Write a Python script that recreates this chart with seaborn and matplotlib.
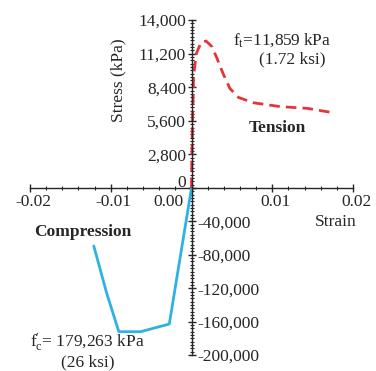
import numpy as np
import pandas as pd
import matplotlib
matplotlib.use("Agg")
import matplotlib.pyplot as plt
import matplotlib.ticker as mticker
import matplotlib.transforms as mtransforms
import seaborn as sns

# --- data ---
tension_strain = [0.0, 0.0001, 0.00025, 0.0006, 0.0012, 0.0018, 0.0025, 0.0031,
                  0.0039, 0.00475, 0.0058, 0.0077, 0.011, 0.0143, 0.0173]
tension_stress = [0, 4500, 9300, 11200, 12150, 12250, 11800, 10900,
                  9550, 8300, 7550, 7100, 6780, 6640, 6300]

comp_strain = [0.0, -0.00275, -0.0063, -0.009, -0.0105, -0.0121]
comp_stress = [0, -162900, -172100, -172100, -126100, -69500]

x_ticks = [-0.02, -0.01, 0.0, 0.01, 0.02]
y_ticks_tension = [0, 2800, 5600, 8400, 11200, 14000]
y_ticks_comp = [-200000, -160000, -120000, -80000, -40000]

tension_df = pd.DataFrame({'strain': tension_strain, 'stress': tension_stress})
comp_df = pd.DataFrame({'strain': comp_strain, 'stress': comp_stress})

sns.set_style("ticks")
plt.rcParams['font.family'] = ['Liberation Serif', 'DejaVu Serif']
plt.rcParams['mathtext.fontset'] = 'custom'
plt.rcParams['mathtext.rm'] = 'Liberation Serif'
plt.rcParams['mathtext.it'] = 'Liberation Serif:italic'
plt.rcParams['axes.linewidth'] = 1.0
plt.rcParams['axes.unicode_minus'] = False

W, H = 376, 371
fig = plt.figure(figsize=(W / 100, H / 100), dpi=100)

def fx(px):
    return px / W

def fy(py):
    return 1 - py / H

left, right = 30, 353
ax_t = fig.add_axes([fx(left), fy(188), (right - left) / W, (188 - 20) / H])
ax_c = fig.add_axes([fx(left), fy(355), (right - left) / W, (355 - 188) / H])
for ax in (ax_t, ax_c):
    ax.set_facecolor('none')
    ax.set_xlim(-0.02, 0.02)

# ===== tension (upper half) =====
sns.lineplot(data=tension_df, x='strain', y='stress', ax=ax_t, sort=False,
             estimator=None, color='#e8333b', lw=2.0, linestyle=(0, (3.8, 2.2)))
ax_t.set_ylim(0, 14000)
ax_t.spines['top'].set_visible(False)
ax_t.spines['right'].set_visible(False)
ax_t.spines['left'].set_position(('data', 0))
ax_t.set_xticks(x_ticks)
ax_t.xaxis.set_minor_locator(mticker.MultipleLocator(0.002))
ax_t.xaxis.set_major_formatter(mticker.StrMethodFormatter('{x:.2f}'))
ax_t.set_yticks(y_ticks_tension)
ax_t.yaxis.set_minor_locator(mticker.AutoMinorLocator(10))
ax_t.yaxis.set_major_formatter(mticker.StrMethodFormatter('{x:,.0f}'))
ax_t.tick_params(which='major', direction='inout', length=6, width=1, labelsize=12.5, pad=1)
ax_t.tick_params(which='minor', direction='inout', length=3, width=0.8)
ax_t.set_xlabel('')
ax_t.set_ylabel('')

# shift the 0.00 label left, off the y axis
for lab in ax_t.get_xticklabels():
    if lab.get_text() == '0.00':
        lab.set_transform(lab.get_transform() +
                          mtransforms.ScaledTranslation(-0.23, 0, fig.dpi_scale_trans))
    else:
        lab.set_transform(lab.get_transform() +
                          mtransforms.ScaledTranslation(0.03, 0, fig.dpi_scale_trans))
# lift the 0 stress label above the strain axis
for lab in ax_t.get_yticklabels():
    if lab.get_text() == '0':
        lab.set_transform(lab.get_transform() +
                          mtransforms.ScaledTranslation(0, 0.07, fig.dpi_scale_trans))

# ===== compression (lower half) =====
sns.lineplot(data=comp_df, x='strain', y='stress', ax=ax_c, sort=False,
             estimator=None, color='#2eb1e3', lw=2.0)
ax_c.set_ylim(-200000, 0)
for s in ('top', 'bottom', 'left'):
    ax_c.spines[s].set_visible(False)
ax_c.spines['right'].set_position(('data', 0))
ax_c.yaxis.tick_right()
ax_c.set_xticks([])
ax_c.set_yticks(y_ticks_comp)
ax_c.yaxis.set_minor_locator(mticker.AutoMinorLocator(10))
ax_c.yaxis.set_major_formatter(mticker.StrMethodFormatter('{x:,.0f}'))
ax_c.tick_params(which='major', direction='inout', length=6, width=1, labelsize=12.5, pad=1)
ax_c.tick_params(which='minor', direction='inout', length=3, width=0.8)
ax_c.set_xlabel('')
ax_c.set_ylabel('')

# ===== annotations =====
fs = 12.5
fig.text(fx(118), fy(80), 'Stress (kPa)', rotation=90, ha='center', va='center', fontsize=fs)
fig.text(fx(336), fy(222), 'Strain', ha='center', va='center', fontsize=fs)
fig.text(fx(282), fy(40), r'$\mathrm{f_t}$=11,859 kPa', ha='center', va='center', fontsize=fs)
fig.text(fx(292), fy(59), '(1.72 ksi)', ha='center', va='center', fontsize=fs)
fig.text(fx(277), fy(128), 'Tension', ha='center', va='center', fontsize=fs, fontweight='bold')
fig.text(fx(83), fy(232), 'Compression', ha='center', va='center', fontsize=fs, fontweight='bold')
fig.text(fx(87), fy(342), r"$\mathrm{f}_\mathrm{c}^{\prime}$= 179,263 kPa", ha='center', va='center', fontsize=fs)
fig.text(fx(88), fy(362), '(26 ksi)', ha='center', va='center', fontsize=fs)

fig.savefig('out.png', dpi=100)
